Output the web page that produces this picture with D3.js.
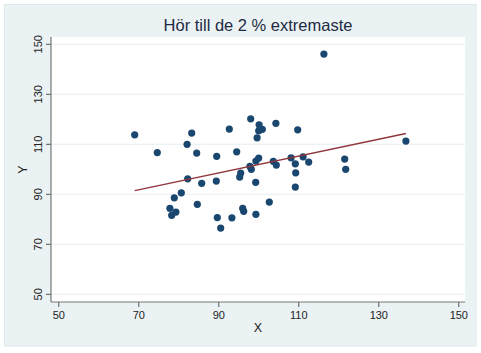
<!DOCTYPE html>
<html lang="sv">
<head>
  <meta charset="UTF-8">
  <title>Hör till de 2 % extremaste</title>
  <script src="https://d3js.org/d3.v7.min.js"></script>
  <style>
    body { margin: 0; background: #fff; }
    text { font-family: "Liberation Sans", Arial, sans-serif; }
  </style>
</head>
<body>
  <svg width="481" height="353"></svg>
<script>
  // data
  const xValues = [69.1, 74.75, 79.0, 77.9, 78.35, 79.4, 80.75, 82.35, 82.2, 83.35,
    84.6, 84.75, 85.85, 89.6, 89.5, 89.75, 90.6, 92.75, 93.4, 94.6,
    95.35, 95.6, 96.1, 96.35, 97.9, 98.25, 98.1, 99.35, 99.4, 99.4,
    99.7, 100.1, 100.1, 100.2, 101.0, 102.75, 103.75, 104.5, 104.4, 108.2,
    109.25, 109.35, 109.25, 109.85, 111.2, 112.6, 116.4, 121.6, 121.85, 136.9];
  const yValues = [113.8, 106.7, 88.6, 84.4, 81.6, 82.9, 90.6, 96.2, 110.0, 114.5,
    106.5, 86.0, 94.4, 105.2, 95.3, 80.7, 76.5, 116.1, 80.6, 107.0,
    96.9, 98.5, 84.4, 83.2, 101.2, 100.0, 120.2, 94.8, 103.3, 82.0,
    112.6, 104.5, 115.4, 117.8, 116.0, 86.9, 103.2, 101.7, 118.4, 104.6,
    102.2, 98.6, 92.9, 115.8, 105.0, 102.9, 146.1, 104.1, 100.0, 111.3];
  const xTicks = [50, 70, 90, 110, 130, 150];
  const yTicks = [50, 70, 90, 110, 130, 150];
  const title = "Hör till de 2 % extremaste";

  const svg = d3.select("svg");
  const plot = { left: 51, top: 37, right: 465, bottom: 302 };

  const x = d3.scaleLinear().domain([50, 150]).range([58.3, 458.3]);
  const y = d3.scaleLinear().domain([50, 150]).range([294.3, 44.3]);

  // outer graph region
  svg.append("rect")
    .attr("x", 4.5).attr("y", 4.5)
    .attr("width", 471.5).attr("height", 341.5)
    .attr("fill", "#eaf2f3")
    .attr("stroke", "#dfe8eb");

  // plot region
  svg.append("rect")
    .attr("x", plot.left).attr("y", plot.top)
    .attr("width", plot.right - plot.left)
    .attr("height", plot.bottom - plot.top)
    .attr("fill", "#fff");

  // horizontal gridlines
  svg.append("g")
    .selectAll("line")
    .data(yTicks)
    .join("line")
    .attr("x1", plot.left).attr("x2", plot.right)
    .attr("y1", d => y(d)).attr("y2", d => y(d))
    .attr("stroke", "#eaf2f3")
    .attr("stroke-width", 1.2);

  // axes
  const yAxis = svg.append("g")
    .attr("transform", `translate(${plot.left},0)`)
    .call(d3.axisLeft(y).tickValues(yTicks).tickSize(5).tickSizeOuter(0).tickPadding(4));
  yAxis.select(".domain").remove();
  yAxis.selectAll(".tick line").attr("stroke", "#555");
  yAxis.selectAll(".tick text")
    .attr("font-size", 11)
    .attr("fill", "#222")
    .attr("text-anchor", "middle")
    .attr("transform", "rotate(-90)")
    .attr("x", d => -y(d))
    .attr("y", -9)
    .attr("dy", 0);
  yAxis.selectAll(".tick").attr("transform", null);
  yAxis.selectAll(".tick line")
    .attr("x2", -5)
    .attr("y1", d => y(d)).attr("y2", d => y(d));

  const xAxis = svg.append("g")
    .attr("transform", `translate(0,${plot.bottom})`)
    .call(d3.axisBottom(x).tickValues(xTicks).tickSize(5).tickSizeOuter(0).tickPadding(4));
  xAxis.select(".domain").remove();
  xAxis.selectAll(".tick line").attr("stroke", "#555");
  xAxis.selectAll(".tick text")
    .attr("font-size", 11)
    .attr("fill", "#222");

  svg.append("line")
    .attr("x1", plot.left).attr("x2", plot.left)
    .attr("y1", plot.top).attr("y2", plot.bottom)
    .attr("stroke", "#777").attr("stroke-width", 1.2);
  svg.append("line")
    .attr("x1", plot.left).attr("x2", plot.right)
    .attr("y1", plot.bottom).attr("y2", plot.bottom)
    .attr("stroke", "#777").attr("stroke-width", 1.2);

  // points
  const points = xValues.map((v, i) => ({ x: v, y: yValues[i] }));
  svg.append("g")
    .selectAll("circle")
    .data(points)
    .join("circle")
    .attr("cx", d => x(d.x))
    .attr("cy", d => y(d.y))
    .attr("r", 3.6)
    .attr("fill", "#1a476f");

  // linear fit (ordinary least squares)
  const mx = d3.mean(xValues), my = d3.mean(yValues);
  const slope = d3.sum(points, d => (d.x - mx) * (d.y - my)) /
    d3.sum(points, d => (d.x - mx) * (d.x - mx));
  const intercept = my - slope * mx;
  const ext = d3.extent(xValues);
  svg.append("path")
    .datum(ext.map(v => [v, intercept + slope * v]))
    .attr("d", d3.line().x(d => x(d[0])).y(d => y(d[1])))
    .attr("fill", "none")
    .attr("stroke", "#90353b")
    .attr("stroke-width", 1.3);

  // titles
  svg.append("text")
    .attr("x", (plot.left + plot.right) / 2)
    .attr("y", 31)
    .attr("text-anchor", "middle")
    .attr("font-size", 16.5)
    .attr("fill", "#1e2a44")
    .text(title);

  svg.append("text")
    .attr("x", (plot.left + plot.right) / 2)
    .attr("y", 332)
    .attr("text-anchor", "middle")
    .attr("font-size", 12.5)
    .attr("fill", "#222")
    .text("X");

  svg.append("text")
    .attr("transform", `translate(27,${(plot.top + plot.bottom) / 2}) rotate(-90)`)
    .attr("text-anchor", "middle")
    .attr("font-size", 12.5)
    .attr("fill", "#222")
    .text("Y");
</script>
</body>
</html>
